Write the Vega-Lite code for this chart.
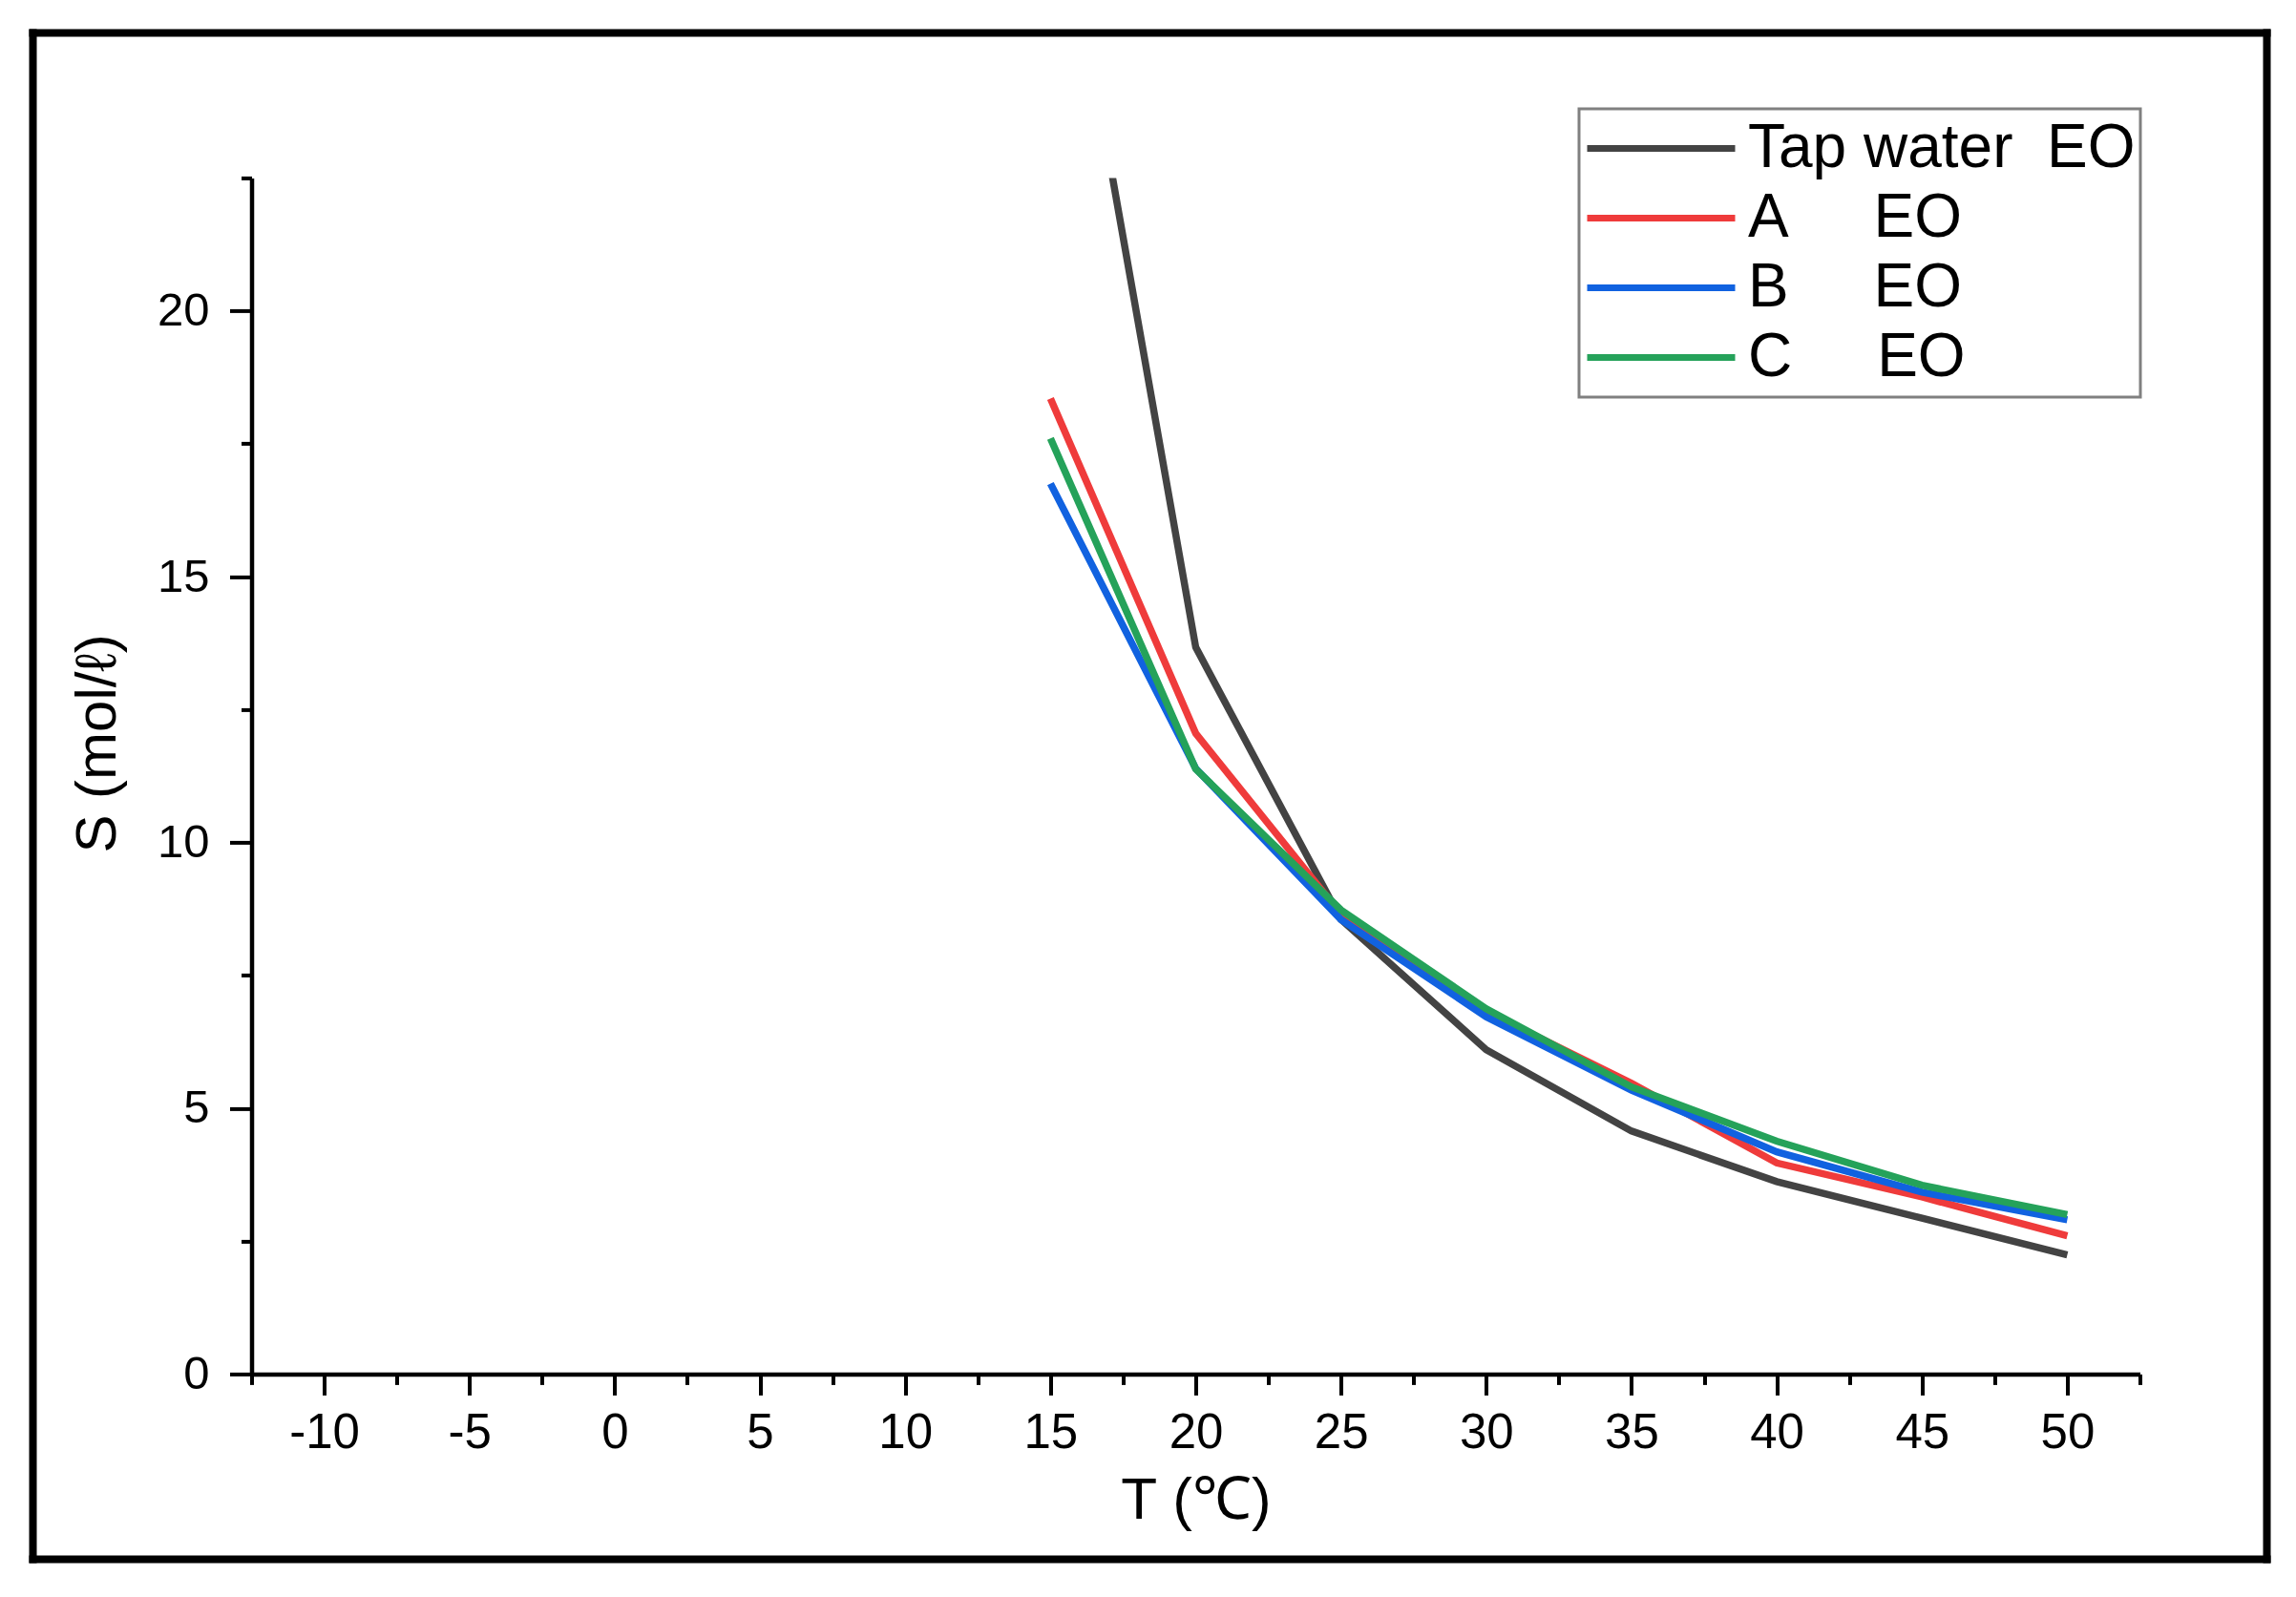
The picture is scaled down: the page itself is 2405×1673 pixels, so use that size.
{
  "$schema": "https://vega.github.io/schema/vega-lite/v6.json",
  "autosize": "none",
  "width": 1978,
  "height": 1253,
  "padding": {"left": 263.5, "top": 186.4, "right": 163.5, "bottom": 233.6},
  "background": "white",
  "config": {"view": {"stroke": null}, "font": "Liberation Sans"},
  "data": {
    "values": [
      {"T": 15, "S": 29.1, "series": "Tap water\u00a0\u00a0EO"},
      {"T": 20, "S": 13.67, "series": "Tap water\u00a0\u00a0EO"},
      {"T": 25, "S": 8.55, "series": "Tap water\u00a0\u00a0EO"},
      {"T": 30, "S": 6.1, "series": "Tap water\u00a0\u00a0EO"},
      {"T": 35, "S": 4.57, "series": "Tap water\u00a0\u00a0EO"},
      {"T": 40, "S": 3.62, "series": "Tap water\u00a0\u00a0EO"},
      {"T": 45, "S": 2.93, "series": "Tap water\u00a0\u00a0EO"},
      {"T": 50, "S": 2.24, "series": "Tap water\u00a0\u00a0EO"},
      {"T": 15, "S": 18.35, "series": "A\u00a0\u00a0\u00a0\u00a0\u00a0EO"},
      {"T": 20, "S": 12.05, "series": "A\u00a0\u00a0\u00a0\u00a0\u00a0EO"},
      {"T": 25, "S": 8.65, "series": "A\u00a0\u00a0\u00a0\u00a0\u00a0EO"},
      {"T": 30, "S": 6.82, "series": "A\u00a0\u00a0\u00a0\u00a0\u00a0EO"},
      {"T": 35, "S": 5.47, "series": "A\u00a0\u00a0\u00a0\u00a0\u00a0EO"},
      {"T": 40, "S": 3.97, "series": "A\u00a0\u00a0\u00a0\u00a0\u00a0EO"},
      {"T": 45, "S": 3.33, "series": "A\u00a0\u00a0\u00a0\u00a0\u00a0EO"},
      {"T": 50, "S": 2.6, "series": "A\u00a0\u00a0\u00a0\u00a0\u00a0EO"},
      {"T": 15, "S": 16.75, "series": "B\u00a0\u00a0\u00a0\u00a0\u00a0EO"},
      {"T": 20, "S": 11.39, "series": "B\u00a0\u00a0\u00a0\u00a0\u00a0EO"},
      {"T": 25, "S": 8.55, "series": "B\u00a0\u00a0\u00a0\u00a0\u00a0EO"},
      {"T": 30, "S": 6.72, "series": "B\u00a0\u00a0\u00a0\u00a0\u00a0EO"},
      {"T": 35, "S": 5.34, "series": "B\u00a0\u00a0\u00a0\u00a0\u00a0EO"},
      {"T": 40, "S": 4.18, "series": "B\u00a0\u00a0\u00a0\u00a0\u00a0EO"},
      {"T": 45, "S": 3.42, "series": "B\u00a0\u00a0\u00a0\u00a0\u00a0EO"},
      {"T": 50, "S": 2.9, "series": "B\u00a0\u00a0\u00a0\u00a0\u00a0EO"},
      {"T": 15, "S": 17.6, "series": "C\u00a0\u00a0\u00a0\u00a0\u00a0EO"},
      {"T": 20, "S": 11.38, "series": "C\u00a0\u00a0\u00a0\u00a0\u00a0EO"},
      {"T": 25, "S": 8.73, "series": "C\u00a0\u00a0\u00a0\u00a0\u00a0EO"},
      {"T": 30, "S": 6.87, "series": "C\u00a0\u00a0\u00a0\u00a0\u00a0EO"},
      {"T": 35, "S": 5.4, "series": "C\u00a0\u00a0\u00a0\u00a0\u00a0EO"},
      {"T": 40, "S": 4.38, "series": "C\u00a0\u00a0\u00a0\u00a0\u00a0EO"},
      {"T": 45, "S": 3.55, "series": "C\u00a0\u00a0\u00a0\u00a0\u00a0EO"},
      {"T": 50, "S": 3.0, "series": "C\u00a0\u00a0\u00a0\u00a0\u00a0EO"}
    ]
  },
  "layer": [
    {
      "mark": {"type": "line", "strokeWidth": 7.5, "clip": true},
      "encoding": {
        "x": {
          "field": "T", "type": "quantitative",
          "scale": {"domain": [-12.5, 52.5], "nice": false, "zero": false},
          "axis": {
            "orient": "bottom",
            "values": [-12.5, -10, -7.5, -5, -2.5, 0, 2.5, 5, 7.5, 10, 12.5, 15, 17.5, 20, 22.5, 25, 27.5, 30, 32.5, 35, 37.5, 40, 42.5, 45, 47.5, 50, 52.5],
            "labelExpr": "datum.value % 5 === 0 ? '' + datum.value : ''",
            "tickSize": {"condition": {"test": "datum.value % 5 === 0", "value": 22}, "value": 11},
            "tickWidth": 4, "tickColor": "black",
            "domainColor": "black", "domainWidth": 4.5,
            "labelFontSize": 51, "labelFont": "Liberation Sans", "labelColor": "black",
            "labelBaseline": "alphabetic", "labelPadding": 55,
            "labelFlush": false, "labelOverlap": false, "grid": false,
            "title": "T (℃)", "titleFont": "Liberation Sans", "titleFontSize": 62,
            "titleFontWeight": "normal", "titleColor": "black",
            "titleBaseline": "alphabetic", "titleY": 151, "titleX": 989
          }
        },
        "y": {
          "field": "S", "type": "quantitative",
          "scale": {"domain": [0, 22.5], "nice": false, "zero": false},
          "axis": {
            "orient": "left",
            "values": [0, 2.5, 5, 7.5, 10, 12.5, 15, 17.5, 20, 22.5],
            "labelExpr": "datum.value % 5 === 0 ? '' + datum.value : ''",
            "tickSize": {"condition": {"test": "datum.value % 5 === 0", "value": 23}, "value": 11},
            "tickWidth": 4, "tickColor": "black",
            "domainColor": "black", "domainWidth": 4.5,
            "labelFontSize": 49, "labelFont": "Liberation Sans", "labelColor": "black",
            "labelPadding": 21.5, "labelFlush": false, "labelOverlap": false, "grid": false,
            "title": "S (mol/ℓ)", "titleFont": "Liberation Sans", "titleFontSize": 60,
            "titleFontWeight": "normal", "titleColor": "black",
            "titleBaseline": "alphabetic", "titleX": -143.5, "titleY": 592, "titleAngle": -90
          }
        },
        "color": {
          "field": "series", "type": "nominal",
          "scale": {
            "domain": ["Tap water\u00a0\u00a0EO", "A\u00a0\u00a0\u00a0\u00a0\u00a0EO", "B\u00a0\u00a0\u00a0\u00a0\u00a0EO", "C\u00a0\u00a0\u00a0\u00a0\u00a0EO"],
            "range": ["#434343", "#ef3b3b", "#1162e0", "#25a25a"]
          },
          "legend": {
            "orient": "none", "legendX": 1390.5, "legendY": -72.4,
            "title": null, "symbolType": "stroke", "symbolSize": 24025,
            "symbolStrokeWidth": 7, "clipHeight": 73, "rowPadding": 0,
            "labelFontSize": 64, "labelFont": "Liberation Sans", "labelColor": "black",
            "labelOffset": 10, "labelLimit": 900, "padding": 5,
            "strokeColor": "#808080", "fillColor": "white",
            "encode": {"legend": {"update": {"strokeWidth": {"value": 3}}}}
          }
        }
      }
    },
    {
      "mark": {"type": "line", "opacity": 0},
      "encoding": {
        "x": {
          "field": "T", "type": "quantitative",
          "scale": {"domain": [-12.5, 52.5], "range": [-233.5, 2114.5], "nice": false, "zero": false},
          "axis": {"orient": "top", "offset": 152.4, "domainColor": "black", "domainWidth": 8, "ticks": false, "labels": false, "title": null, "grid": false}
        },
        "y": {
          "field": "S", "type": "quantitative",
          "scale": {"domain": [0, 22.5], "range": [1450.6, -156.4], "nice": false, "zero": false},
          "axis": {"orient": "right", "offset": 132.5, "domainColor": "black", "domainWidth": 8, "ticks": false, "labels": false, "title": null, "grid": false}
        }
      }
    },
    {
      "mark": {"type": "line", "opacity": 0},
      "encoding": {
        "x": {
          "field": "T", "type": "quantitative",
          "scale": {"domain": [-12.5, 52.5], "range": [-233.5, 2114.5], "nice": false, "zero": false},
          "axis": {"orient": "bottom", "offset": 193.6, "domainColor": "black", "domainWidth": 8, "ticks": false, "labels": false, "title": null, "grid": false}
        },
        "y": {
          "field": "S", "type": "quantitative",
          "scale": {"domain": [0, 22.5], "range": [1450.6, -156.4], "nice": false, "zero": false},
          "axis": {"orient": "left", "offset": 229.5, "domainColor": "black", "domainWidth": 8, "ticks": false, "labels": false, "title": null, "grid": false}
        }
      }
    }
  ],
  "resolve": {
    "scale": {"x": "independent", "y": "independent"},
    "axis": {"x": "independent", "y": "independent"}
  }
}
